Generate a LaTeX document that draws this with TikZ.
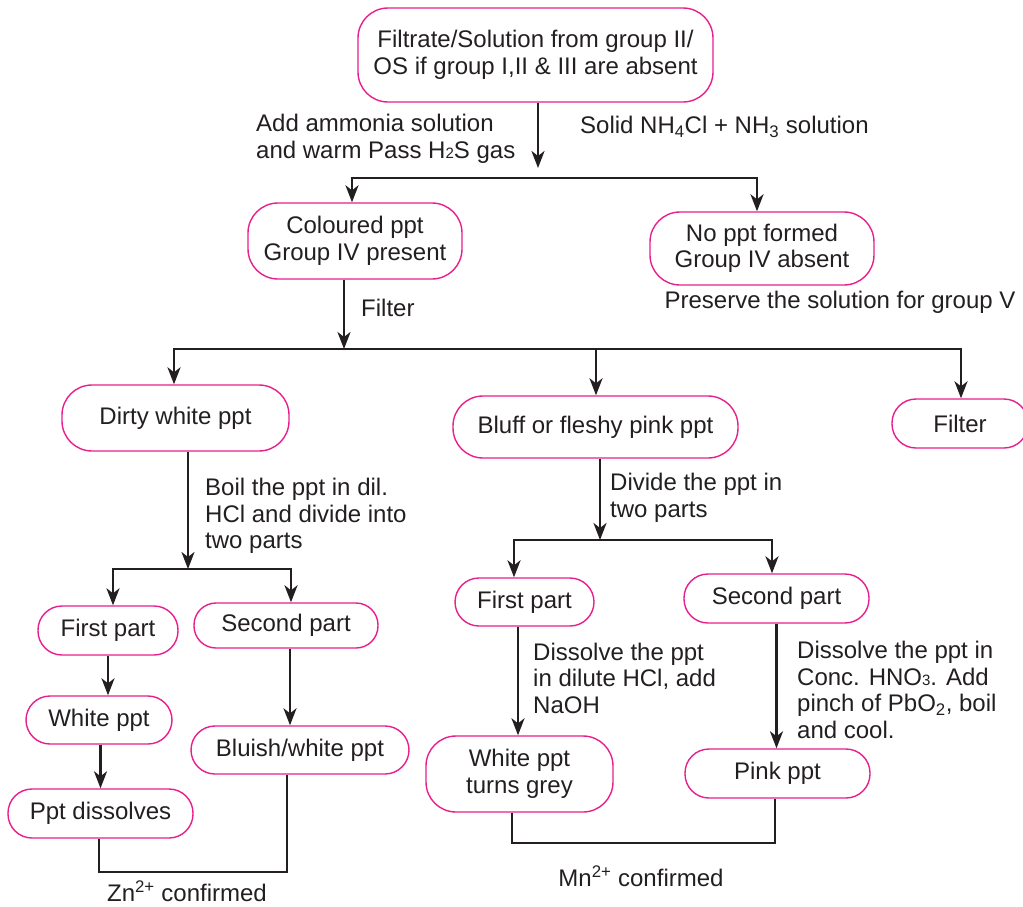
\documentclass[tikz,border=0pt]{standalone}
\usepackage{fontspec}
\setmainfont{Liberation Sans}
\usetikzlibrary{arrows.meta}
\definecolor{pinkc}{RGB}{232,30,140}
\definecolor{ink}{RGB}{35,31,32}
\newcommand{\lowtwo}[1]{{\fontsize{15}{15}\selectfont #1}}
\begin{document}
\begin{tikzpicture}[x=1pt,y=-1pt,
  every node/.style={font=\fontsize{24}{26.5}\selectfont, text=ink, inner sep=0pt},
  pill/.style={draw=pinkc, line width=1.4pt, rounded corners=#1, align=center},
  pill/.default=23pt,
  conn/.style={draw=ink, line width=2.5pt},
  tipA/.tip={Stealth[length=17pt,width=13pt,inset=5pt]},
  arr/.style={conn, -tipA},
  arrs/.style={conn, tipA-tipA},
  lbl/.style={align=left, anchor=west}]

\useasboundingbox (0,0) rectangle (1023,906);
\clip (0,0) rectangle (1023,906);

% nodes
\node[pill=30pt, minimum width=355pt, minimum height=94pt] (top) at (535.5,55) {Filtrate/Solution from group II/\\OS if group I,II \& III are absent};
\node[pill=30pt, minimum width=214pt, minimum height=76pt] (col) at (355,241) {Coloured ppt\\Group IV present};
\node[pill=30pt, minimum width=224pt, minimum height=73pt] (nop) at (762,248.5) {No ppt formed\\Group IV absent};
\node[pill=30pt, minimum width=227pt, minimum height=66pt] (dirty) at (175.5,418) {Dirty white ppt};
\node[pill=30pt, minimum width=285pt, minimum height=62pt] (bluff) at (595.5,427) {Bluff or fleshy pink ppt};
\node[pill=24pt, minimum width=136pt, minimum height=49pt] (filt) at (960,423.5) {Filter};
\node[pill=24pt, minimum width=140pt, minimum height=49pt] (fpL) at (108,630.5) {First part};
\node[pill=22pt, minimum width=184pt, minimum height=45pt] (spL) at (286,625.5) {Second part};
\node[pill=24pt, minimum width=146pt, minimum height=48pt] (wpL) at (99,720) {White ppt};
\node[pill=24pt, minimum width=185pt, minimum height=49pt] (pd) at (100.5,813.5) {Ppt dissolves};
\node[pill=24pt, minimum width=218pt, minimum height=48pt] (bw) at (300,750) {Bluish/white ppt};
\node[pill=24pt, minimum width=139pt, minimum height=48pt] (fpM) at (524.5,602) {First part};
\node[pill=24pt, minimum width=185pt, minimum height=49pt] (spM) at (776.5,598.5) {Second part};
\node[pill=30pt, minimum width=187pt, minimum height=76pt] (wg) at (519.5,774) {White ppt\\turns grey};
\node[pill=24pt, minimum width=185pt, minimum height=49pt] (pink) at (777.5,773.5) {Pink ppt};

% labels
\node[lbl] (l1) at (256,139) {Add ammonia solution\\and warm Pass H\lowtwo{2}S gas};
\node[lbl] (l2) at (580,127) {Solid NH\textsubscript{4}Cl + NH\textsubscript{3} solution};
\node (l3) at (840,302) {Preserve the solution for group V};
\node[lbl] (l4) at (361,308) {Filter};
\node[lbl] (l5) at (205,516) {Boil the ppt in dil.\\HCl and divide into\\two parts};
\node[lbl] (l6) at (610,498) {Divide the ppt in\\two parts};
\node[lbl] (l7) at (533,678) {Dissolve the ppt\\in dilute HCl, add\\NaOH};
\node[lbl] (l8) at (797,690) {Dissolve the ppt in\\Conc. HNO\lowtwo{3}. Add\\pinch of PbO\textsubscript{2}, boil\\and cool.};
\node (zn) at (187,891) {Zn\textsuperscript{2+} confirmed};
\node (mn) at (641,876) {Mn\textsuperscript{2+} confirmed};

% junction coordinates
\coordinate (j1) at (538,178);
\coordinate (b1l) at (352,178); \coordinate (b1r) at (757,178);
\coordinate (j2) at (344,349);
\coordinate (b2l) at (174,349); \coordinate (b2m) at (596,349); \coordinate (b2r) at (961,349);
\coordinate (j3) at (188,569);
\coordinate (b3l) at (113,569); \coordinate (b3r) at (291,569);
\coordinate (x290) at (290,0);
\coordinate (zl) at (99,872); \coordinate (zr) at (287,872);
\coordinate (j4) at (600,540);
\coordinate (b4l) at (514,540); \coordinate (b4r) at (772,540);
\coordinate (x518) at (518,0);
\coordinate (ml) at (512,843); \coordinate (mr) at (775,843);

% connectors
\draw[arr] (top.south -| j1) -- ([yshift=10pt]j1);
\draw[arrs] (col.north -| b1l) -- (b1l) -- (b1r) -- (nop.north -| b1r);
\draw[arr] (col.south -| j2) -- (j2);
\draw[arrs] (dirty.north -| b2l) -- (b2l) -- (b2r) -- (filt.north -| b2r);
\draw[arr] (b2m) -- (bluff.north -| b2m);
\draw[arr] (dirty.south -| j3) -- (j3);
\draw[arrs] (fpL.north -| b3l) -- (b3l) -- (b3r) -- (spL.north -| b3r);
\draw[arr] (fpL.south) -- (wpL.north -| fpL.south);
\draw[arr] (wpL.south -| pd.north) -- (pd.north);
\draw[arr] (spL.south -| x290) -- (bw.north -| x290);
\draw[conn] (pd.south -| zl) -- (zl) -- (zr) -- (bw.south -| zr);
\draw[arr] (bluff.south -| j4) -- (j4);
\draw[arrs] (fpM.north -| b4l) -- (b4l) -- (b4r) -- (spM.north -| b4r);
\draw[arr] (fpM.south -| x518) -- (wg.north -| x518);
\draw[arr] (spM.south) -- (pink.north -| spM.south);
\draw[conn] (wg.south -| ml) -- (ml) -- (mr) -- (pink.south -| mr);
\end{tikzpicture}
\end{document}
